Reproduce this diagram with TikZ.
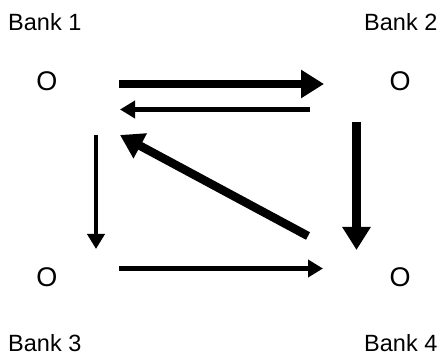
\documentclass[tikz,border=0pt]{standalone}
\usepackage{fontspec}
\setmainfont{Liberation Sans}
\usetikzlibrary{arrows.meta}
\begin{document}
\begin{tikzpicture}[x=1pt,y=-1pt,
  lbl/.style={anchor=base west,inner sep=0pt,font=\fontsize{23.5}{27}\selectfont},
  bank/.style={inner sep=0pt,font=\fontsize{27}{30}\selectfont},
  thick arrow/.style={line width=8.5pt,-{Triangle[length=23pt,width=27pt]}},
  thin arrow/.style={line width=4.5pt,-{Triangle[length=15pt,width=17pt]}}]
\useasboundingbox (0,0) rectangle (439,355);
% labels
\node[lbl] (l1) at (8,31) {Bank 1};
\node[lbl] (l2) at (364,31) {Bank 2};
\node[lbl] (l3) at (8,352) {Bank 3};
\node[lbl] (l4) at (364,352) {Bank 4};
% banks
\node[bank] (b1) at (47,81) {O};
\node[bank] (b2) at (400,81) {O};
\node[bank] (b3) at (47,277) {O};
\node[bank] (b4) at (400,277) {O};
% connector ends
\coordinate (a12s) at (119,84);   \coordinate (a12e) at (324,84);
\coordinate (a21s) at (310,109.5);\coordinate (a21e) at (120,109.5);
\coordinate (a13s) at (96,135);   \coordinate (a13e) at (96,249);
\coordinate (a24s) at (356.5,122);\coordinate (a24e) at (356.5,250);
\coordinate (a41s) at (308,236);  \coordinate (a41e) at (120,135);
\coordinate (a34s) at (119,268.5);\coordinate (a34e) at (323,268.5);
% connectors
\draw[thick arrow] (a12s) -- (a12e);
\draw[thin arrow] (a21s) -- (a21e);
\draw[thin arrow] (a13s) -- (a13e);
\draw[thick arrow] (a24s) -- (a24e);
\draw[thick arrow] (a41s) -- (a41e);
\draw[thin arrow] (a34s) -- (a34e);
\end{tikzpicture}
\end{document}
